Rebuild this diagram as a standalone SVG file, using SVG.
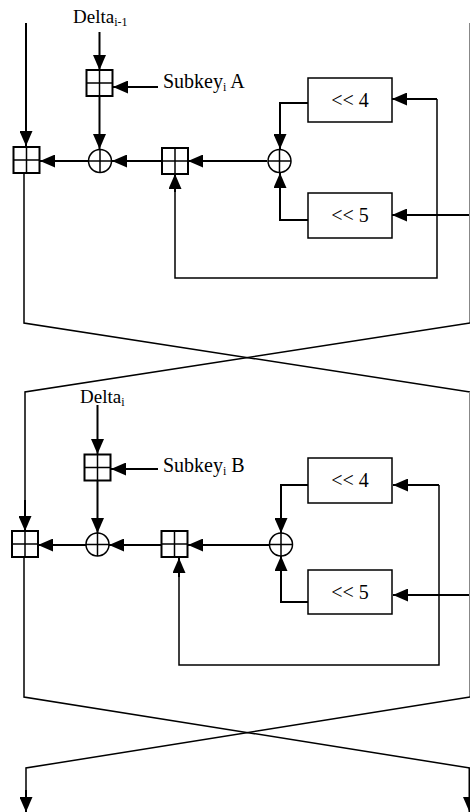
<svg xmlns="http://www.w3.org/2000/svg" xmlns:xlink="http://www.w3.org/1999/xlink" width="470" height="812" viewBox="0 0 470 812">
<style>
.bx{fill:#fff;stroke:#000;stroke-width:2}
.cr{stroke:#000;stroke-width:1.5;fill:none}
.xo{fill:#fff;stroke:#000;stroke-width:1.5}
.ar{fill:none;stroke:#000;stroke-width:2}
.th{fill:none;stroke:#000;stroke-width:1.5}
.ed{fill:none;stroke:#888;stroke-width:1}
text{font-family:"Liberation Serif","Times New Roman",serif;font-size:20px;fill:#000}
.dl{font-size:19px}
.sub{font-size:12px}
</style>
<defs>
<marker id="ah" viewBox="0 0 15 13" refX="15" refY="6.5" markerWidth="15" markerHeight="13" markerUnits="userSpaceOnUse" orient="auto">
<path d="M0,0 L15,6.5 L0,13 z" fill="#000"/>
</marker>
<g id="plus"><rect class="bx" x="0" y="0" width="26" height="26"/><path class="cr" d="M13,0 V26 M0,13 H26"/></g>
<g id="xor"><circle class="xo" cx="0" cy="0" r="11.5"/><path class="cr" d="M0,-11.5 V11.5 M-11.5,0 H11.5"/></g>
</defs>

<g id="connectors">
<!-- section 1 -->
<line class="ar" x1="26" y1="23" x2="26" y2="146" marker-end="url(#ah)"/>
<line class="ar" x1="99.5" y1="32" x2="99.5" y2="70" marker-end="url(#ah)"/>
<line class="ar" x1="158" y1="87" x2="113" y2="87" marker-end="url(#ah)"/>
<line class="ar" x1="99.5" y1="96" x2="99.5" y2="149" marker-end="url(#ah)"/>
<line class="ar" x1="88" y1="161" x2="40" y2="161" marker-end="url(#ah)"/>
<line class="ar" x1="162" y1="161" x2="112" y2="161" marker-end="url(#ah)"/>
<line class="ar" x1="267" y1="161" x2="188" y2="161" marker-end="url(#ah)"/>
<path class="ar" d="M308,103 H280 V149" marker-end="url(#ah)"/>
<path class="ar" d="M308,220 H280 V173" marker-end="url(#ah)"/>
<line class="ar" x1="470" y1="215" x2="392" y2="215" marker-end="url(#ah)"/>
<path class="th" d="M437,215 V99"/>
<line class="ar" x1="437" y1="99" x2="392" y2="99" marker-end="url(#ah)"/>
<path class="th" d="M437,215 V278 H175 V190"/>
<line class="ar" x1="175" y1="192" x2="175" y2="174" marker-end="url(#ah)"/>
<line class="ed" x1="469.5" y1="23" x2="469.5" y2="323"/>
<path class="th" d="M24,173 V323 L470,392"/>
<path class="th" d="M470,323 L25,392 V520"/>
<line class="ar" x1="25" y1="500" x2="25" y2="531" marker-end="url(#ah)"/>
<!-- section 2 -->
<line class="ar" x1="97.5" y1="405" x2="97.5" y2="454" marker-end="url(#ah)"/>
<line class="ar" x1="158" y1="469" x2="111" y2="469" marker-end="url(#ah)"/>
<line class="ar" x1="97.5" y1="481" x2="97.5" y2="533" marker-end="url(#ah)"/>
<line class="ar" x1="86" y1="545" x2="38" y2="545" marker-end="url(#ah)"/>
<line class="ar" x1="161" y1="545" x2="109" y2="545" marker-end="url(#ah)"/>
<line class="ar" x1="269.5" y1="545" x2="188" y2="545" marker-end="url(#ah)"/>
<path class="ar" d="M308,485 H281 V533" marker-end="url(#ah)"/>
<path class="ar" d="M308,602 H281 V556" marker-end="url(#ah)"/>
<line class="ar" x1="470" y1="595" x2="393" y2="595" marker-end="url(#ah)"/>
<path class="th" d="M439,595 V485"/>
<line class="ar" x1="439" y1="485" x2="393" y2="485" marker-end="url(#ah)"/>
<path class="th" d="M439,595 V665 H179 V575"/>
<line class="ar" x1="179" y1="577" x2="179" y2="558" marker-end="url(#ah)"/>
<line class="ed" x1="469.5" y1="392" x2="469.5" y2="697"/>
<path class="th" d="M24,558 V697 L470,768"/>
<path class="th" d="M470,697 L26,768 V800"/>
<line class="ar" x1="26" y1="790" x2="26" y2="812" marker-end="url(#ah)"/>
<line class="ar" x1="469.5" y1="768" x2="469.5" y2="812" marker-end="url(#ah)"/>
</g>

<g id="section1">
<g id="add-left-1"><use xlink:href="#plus" x="13.5" y="147"/></g>
<g id="add-key-1"><use xlink:href="#plus" x="86.5" y="70"/></g>
<g id="add-mid-1"><use xlink:href="#plus" x="162" y="148"/></g>
<g id="xor-a-1"><use xlink:href="#xor" x="100" y="161"/></g>
<g id="xor-b-1"><use xlink:href="#xor" x="279.5" y="161"/></g>
<g id="shl4-1"><rect class="bx" x="308" y="78" width="84" height="44" style="stroke-width:1.5"/><text x="350" y="107" text-anchor="middle">&lt;&lt; 4</text></g>
<g id="shl5-1"><rect class="bx" x="308" y="193" width="84" height="45" style="stroke-width:1.5"/><text x="350" y="222" text-anchor="middle">&lt;&lt; 5</text></g>
<g id="label-delta-1"><text class="dl" x="73" y="23">Delta<tspan class="sub" dy="3">i-1</tspan></text></g>
<g id="label-subkey-a"><text x="163" y="88">Subkey<tspan class="sub" dy="3">i</tspan><tspan dy="-3"> A</tspan></text></g>
</g>

<g id="section2">
<g id="add-left-2"><use xlink:href="#plus" x="12" y="531"/></g>
<g id="add-key-2"><use xlink:href="#plus" x="84.5" y="454.5"/></g>
<g id="add-mid-2"><use xlink:href="#plus" x="161.5" y="531"/></g>
<g id="xor-a-2"><use xlink:href="#xor" x="97.5" y="544.5"/></g>
<g id="xor-b-2"><use xlink:href="#xor" x="281" y="544.5"/></g>
<g id="shl4-2"><rect class="bx" x="308" y="458" width="84" height="45" style="stroke-width:1.5"/><text x="350" y="487" text-anchor="middle">&lt;&lt; 4</text></g>
<g id="shl5-2"><rect class="bx" x="308" y="570" width="84" height="44" style="stroke-width:1.5"/><text x="350" y="599" text-anchor="middle">&lt;&lt; 5</text></g>
<g id="label-delta-2"><text class="dl" x="80" y="403">Delta<tspan class="sub" dy="3">i</tspan></text></g>
<g id="label-subkey-b"><text x="163" y="472">Subkey<tspan class="sub" dy="3">i</tspan><tspan dy="-3"> B</tspan></text></g>
</g>
</svg>
